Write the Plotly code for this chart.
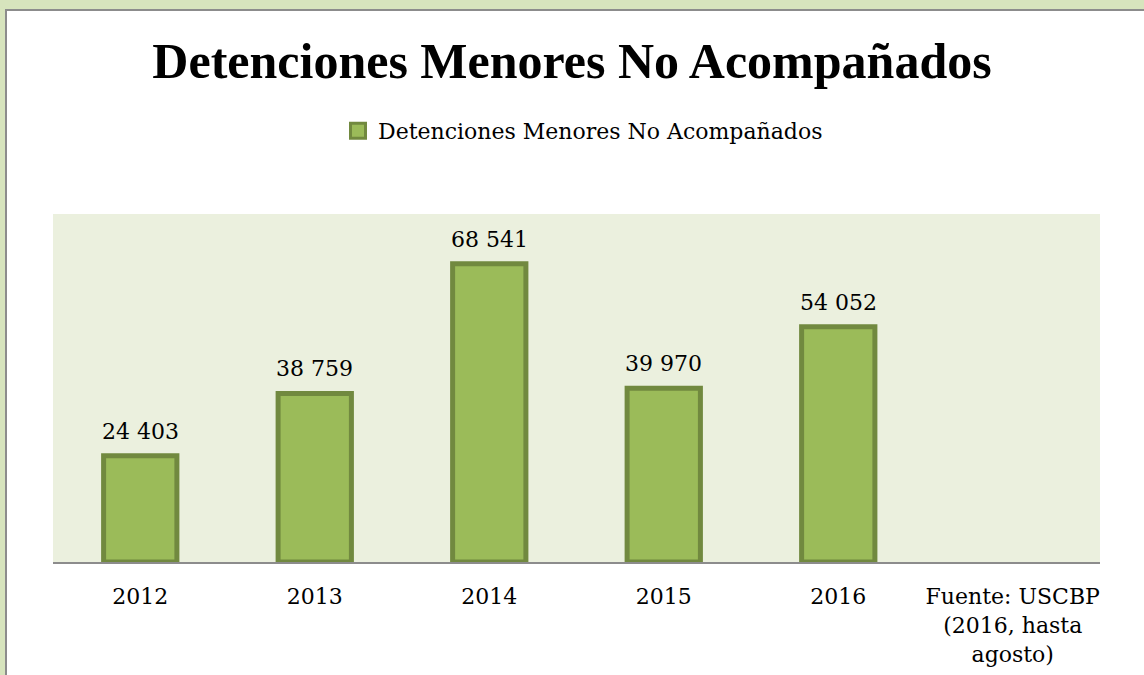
import plotly.graph_objects as go

categories = ["2012", "2013", "2014", "2015", "2016", "Fuente: USCBP<br>(2016, hasta<br>agosto)"]
values = [24403, 38759, 68541, 39970, 54052, None]
series_name = "Detenciones Menores No Acompañados"
title_text = "Detenciones Menores No Acompañados"

W, H = 1144, 675
L, R, T, B = 53, 44, 214, 113
pw, ph = W - L - R, H - T - B

def px_x(px):
    return (px - L) / pw

def px_y(py):
    return (H - B - py) / ph

FONT = "DejaVu Serif"
TFONT = "Liberation Serif"
FILL = "#9BBB59"
EDGE = "#71893F"

fig = go.Figure()
fig.add_trace(go.Bar(
    x=categories, y=values, name=series_name,
    marker=dict(color=FILL, line=dict(color=EDGE, width=5)),
    showlegend=False,
))
# legend entry with a larger square swatch
fig.add_trace(go.Scatter(
    x=[categories[0]], y=[None], mode="markers", name=series_name,
    marker=dict(symbol="square", size=15, color=FILL, line=dict(color=EDGE, width=3)),
    showlegend=True, hoverinfo="skip",
))

annotations = []
for i, v in enumerate(values):
    if v is None:
        continue
    annotations.append(dict(
        x=i, y=v, xref="x", yref="y", text=f"{v:,}".replace(",", " "),
        showarrow=False, yanchor="bottom", yshift=10,
        font=dict(family=FONT, size=22, color="#000000"),
    ))

shapes = [
    dict(type="rect", xref="paper", yref="paper", layer="below",
         x0=px_x(6), x1=px_x(1160), y0=px_y(10), y1=px_y(700),
         fillcolor="white", line=dict(color="#8C8C8C", width=2)),
    dict(type="rect", xref="paper", yref="paper", layer="below",
         x0=0, x1=1, y0=0, y1=1, fillcolor="#EBF0DE", line=dict(width=0)),
]

fig.update_layout(
    width=W, height=H,
    margin=dict(l=L, r=R, t=T, b=B, autoexpand=False),
    paper_bgcolor="#D7E4BD", plot_bgcolor="#EBF0DE",
    bargap=0.58,
    title=dict(text="<b>" + title_text + "</b>", x=0.5, xref="container", y=1 - 60 / H, yanchor="middle",
               font=dict(family=TFONT, size=50, color="#000000")),
    legend=dict(orientation="h", x=px_x(583), xanchor="center", y=px_y(131), yanchor="middle",
                font=dict(family=FONT, size=22, color="#000000"), bgcolor="rgba(0,0,0,0)",
                itemwidth=30),
    xaxis=dict(type="category", categoryorder="array", categoryarray=categories,
               range=[-0.5, len(categories) - 0.5], automargin=False,
               showline=True, linecolor="#8C8C8C", linewidth=2, showgrid=False,
               tickfont=dict(family=FONT, size=22, color="#000000"), ticklabelstandoff=14,
               ticks=""),
    yaxis=dict(range=[0, 80000], visible=False, automargin=False),
    shapes=shapes,
    annotations=annotations,
)

fig.write_html("out.html", config={"displayModeBar": False},
               post_script="document.body.style.margin='0';document.body.style.padding='0';")
